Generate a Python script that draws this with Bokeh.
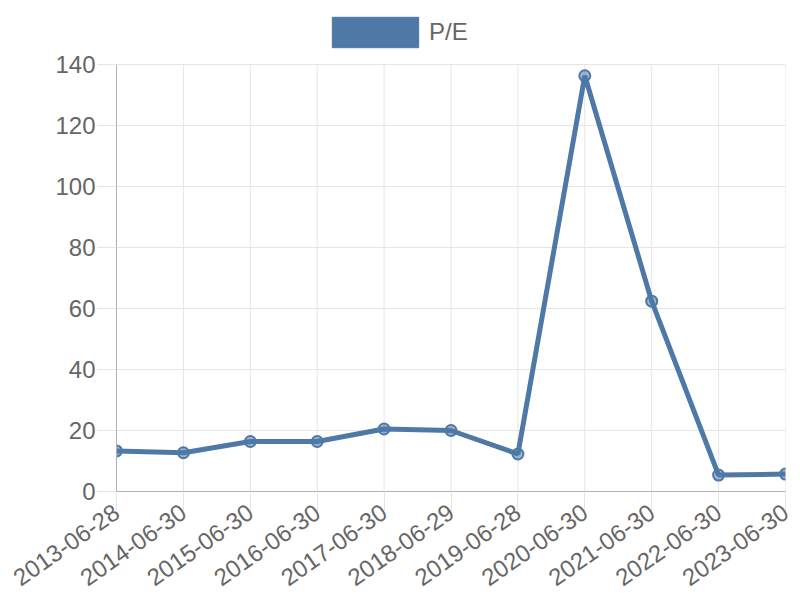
import math
from bokeh.plotting import figure
from bokeh.models import (ColumnDataSource, FixedTicker, Range1d, Legend, LegendItem)
from bokeh.embed import file_html
from bokeh.resources import INLINE

dates = ["2013-06-28", "2014-06-30", "2015-06-30", "2016-06-30", "2017-06-30",
         "2018-06-29", "2019-06-28", "2020-06-30", "2021-06-30", "2022-06-30",
         "2023-06-30"]
pe_values = [13.3, 12.7, 16.4, 16.4, 20.5, 20.0, 12.3, 136.3, 62.4, 5.4, 5.7]
y_ticks = [0, 20, 40, 60, 80, 100, 120, 140]
series_name = "P/E"

x_idx = list(range(len(dates)))
src = ColumnDataSource(data=dict(x=x_idx, y=pe_values, label=dates))

COLOR = "#4e79a7"
FONT = "Liberation Sans"
GRID = "#e5e5e5"
AXIS = "#b0b0b0"
TXT = "#666666"
FS = "24px"

W, H = 800, 600
LEFT, RIGHT, TOP, BOTTOM = 116, 15, 10, 109   # frame borders
AXIS_TOP_PX = 64                                # where the top tick sits
frame_h = H - TOP - BOTTOM
ymax = y_ticks[-1]
y_end = ymax * frame_h / (H - BOTTOM - AXIS_TOP_PX)

p = figure(width=W, height=H, output_backend="svg", toolbar_location=None,
           x_range=Range1d(0, len(dates) - 1), y_range=Range1d(0, y_end),
           min_border_left=LEFT, min_border_right=RIGHT, min_border_top=TOP,
           min_border_bottom=BOTTOM)
p.outline_line_color = None

# vertical grid lines limited to the value range
p.segment(x0=x_idx, x1=x_idx, y0=[0] * len(x_idx), y1=[ymax] * len(x_idx),
          line_color=GRID, line_width=1)
p.xgrid.grid_line_color = None
p.ygrid.grid_line_color = GRID

p.line("x", "y", source=src, line_color=COLOR, line_width=5)
p.scatter("x", "y", source=src, size=11, fill_color=COLOR, fill_alpha=0.55,
          line_color=COLOR, line_width=2)

# axes
p.xaxis.ticker = FixedTicker(ticks=x_idx)
p.xaxis.major_label_overrides = {i: d for i, d in enumerate(dates)}
p.xaxis.major_label_orientation = math.radians(35)
p.yaxis.ticker = FixedTicker(ticks=y_ticks)
p.yaxis.bounds = (0, ymax)

for ax in (p.xaxis[0], p.yaxis[0]):
    ax.axis_line_color = AXIS
    ax.axis_line_width = 1
    ax.major_tick_line_color = GRID
    ax.major_tick_out = 19
    ax.major_tick_in = 0
    ax.minor_tick_line_color = None
    ax.major_label_text_font = FONT
    ax.major_label_text_font_size = FS
    ax.major_label_text_color = TXT
p.xaxis.major_label_standoff = -1
p.yaxis.major_label_standoff = 2

# legend (filled box)
GW, GH = 108, 38
nan = float("nan")
dummy = p.quad(left=[nan], right=[nan], top=[nan], bottom=[nan],
               fill_color=COLOR, line_color=COLOR)
legend = Legend(items=[LegendItem(label=series_name, renderers=[dummy])],
                location=(321 - LEFT, frame_h - (13 - TOP) - GH),
                orientation="horizontal",
                glyph_width=GW, glyph_height=GH, padding=0, margin=0,
                spacing=0, label_standoff=0,
                label_text_font=FONT, label_text_font_size=FS,
                label_text_color=TXT, border_line_color=None,
                background_fill_alpha=0)
p.add_layout(legend, "center")

open("out.html", "w").write(file_html(p, INLINE))
